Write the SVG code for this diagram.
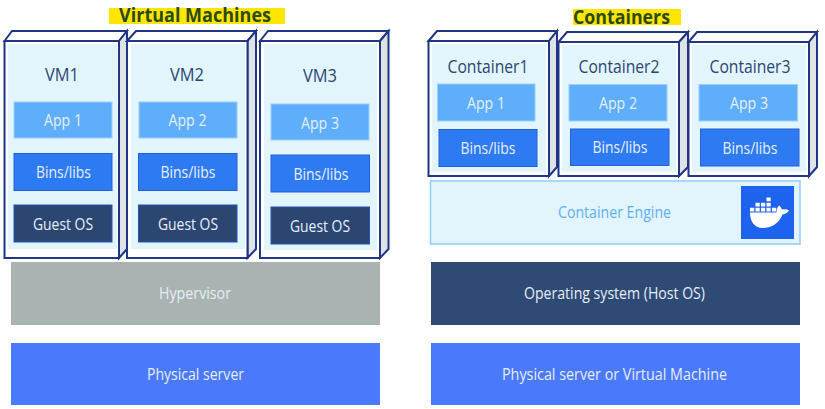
<svg xmlns="http://www.w3.org/2000/svg" width="825" height="409" viewBox="0 0 825 409">
<style>
text{font-family:"Open Sans","Noto Sans","Liberation Sans",sans-serif;text-anchor:middle}
.front{fill:#fff;stroke:#1f3585;stroke-width:2}
.top{fill:#fff;stroke:#1f3585;stroke-width:2;stroke-linejoin:miter}
.side{fill:#dfe3e3;stroke:#1f3585;stroke-width:2}
.inner{fill:#e2f5fd}
.app{fill:#5eaefc;stroke:#9cd0fb;stroke-width:1}
.bins{fill:#2e7af2;stroke:#2460d8;stroke-width:1}
.guest{fill:#2c4672;stroke:#2452b8;stroke-width:1}
.t{font-size:16.500px;fill:#e6f0fb}
.name{font-size:18px;fill:#2c4672}
.bar{font-size:16px;fill:#e6eef8}
.head{font-size:20px;font-weight:700;fill:#2a4a12}
.hl{fill:#ffe600}
.cube{fill:#fff}
</style>
<rect width="825" height="409" fill="#fff"/>

<g id="title-vm"><rect class="hl" x="109" y="8" width="176" height="16"/><text class="head" x="195" y="22" textLength="152" lengthAdjust="spacingAndGlyphs">Virtual Machines</text></g>
<g id="title-containers"><rect class="hl" x="573" y="9" width="108" height="16"/><text class="head" x="621.500" y="23.500" textLength="97" lengthAdjust="spacingAndGlyphs">Containers</text></g>

<g id="vm1">
<path class="top" d="M4.500 41L12 31H127L119 41Z"/><path class="side" d="M119 41L127 31V249L119 258Z"/>
<rect class="front" x="4.500" y="41" width="114.500" height="217"/><rect class="inner" x="8" y="44" width="109" height="205"/>
<text class="name" x="62" y="80.500" textLength="34" lengthAdjust="spacingAndGlyphs">VM1</text>
<rect class="app" x="14" y="102" width="98" height="36"/><text class="t" x="63" y="126" textLength="38" lengthAdjust="spacingAndGlyphs">App 1</text>
<rect class="bins" x="14" y="153.500" width="98" height="37"/><text class="t" x="63.500" y="178" textLength="55" lengthAdjust="spacingAndGlyphs">Bins/libs</text>
<rect class="guest" x="14" y="205" width="98" height="37"/><text class="t" x="63" y="230" textLength="60" lengthAdjust="spacingAndGlyphs">Guest OS</text>
</g>
<g id="vm2">
<path class="top" d="M127 41L136 31H256L247.500 41Z"/><path class="side" d="M247.500 41L256 31V249L247.500 258Z"/>
<rect class="front" x="127" y="41" width="120.500" height="217"/><rect class="inner" x="131" y="44" width="114" height="205"/>
<text class="name" x="187" y="80.500" textLength="34" lengthAdjust="spacingAndGlyphs">VM2</text>
<rect class="app" x="139" y="102" width="98" height="36"/><text class="t" x="187.500" y="126" textLength="38" lengthAdjust="spacingAndGlyphs">App 2</text>
<rect class="bins" x="138.500" y="153.500" width="98.500" height="37"/><text class="t" x="188" y="178" textLength="55" lengthAdjust="spacingAndGlyphs">Bins/libs</text>
<rect class="guest" x="138.500" y="205" width="98.500" height="37"/><text class="t" x="188" y="230" textLength="60" lengthAdjust="spacingAndGlyphs">Guest OS</text>
</g>
<g id="vm3">
<path class="top" d="M260 41L268 31H388.500L380 41Z"/><path class="side" d="M380 41L388.500 31V249L380 258Z"/>
<rect class="front" x="260" y="41" width="120" height="217"/><rect class="inner" x="264" y="44" width="113" height="206"/>
<text class="name" x="320" y="81.500" textLength="34" lengthAdjust="spacingAndGlyphs">VM3</text>
<rect class="app" x="271" y="104" width="98" height="36"/><text class="t" x="320" y="129" textLength="38" lengthAdjust="spacingAndGlyphs">App 3</text>
<rect class="bins" x="271" y="155" width="98.500" height="37"/><text class="t" x="321" y="180" textLength="55" lengthAdjust="spacingAndGlyphs">Bins/libs</text>
<rect class="guest" x="271" y="207" width="98.500" height="37"/><text class="t" x="320" y="232" textLength="60" lengthAdjust="spacingAndGlyphs">Guest OS</text>
</g>

<g id="hypervisor"><rect x="11" y="262" width="369" height="63" fill="#a9b3b1"/><text class="bar" x="195" y="299" textLength="72" lengthAdjust="spacingAndGlyphs">Hypervisor</text></g>
<g id="physical1"><rect x="11" y="343" width="369" height="62" fill="#4a79fb"/><text class="bar" x="195.500" y="380" textLength="97" lengthAdjust="spacingAndGlyphs">Physical server</text></g>

<g id="container1">
<path class="top" d="M428.500 41L437 31H557L549 41Z"/><path class="side" d="M549 41L557 31V167L549 176Z"/>
<rect class="front" x="428.500" y="41" width="120.500" height="135"/><rect class="inner" x="432" y="44" width="114" height="128"/>
<text class="name" x="488" y="73" textLength="81" lengthAdjust="spacingAndGlyphs">Container1</text>
<rect class="app" x="437.500" y="84" width="97.500" height="37"/><text class="t" x="486" y="109" textLength="38" lengthAdjust="spacingAndGlyphs">App 1</text>
<rect class="bins" x="439" y="129.500" width="98" height="37"/><text class="t" x="488" y="154" textLength="55" lengthAdjust="spacingAndGlyphs">Bins/libs</text>
</g>
<g id="container2">
<path class="top" d="M558.500 42L567 32H688L679 42Z"/><path class="side" d="M679 42L688 32V167L679 176Z"/>
<rect class="front" x="558.500" y="42" width="120.500" height="134"/><rect class="inner" x="562" y="45" width="114" height="127"/>
<text class="name" x="619" y="73" textLength="81" lengthAdjust="spacingAndGlyphs">Container2</text>
<rect class="app" x="569" y="84.500" width="98" height="36.500"/><text class="t" x="618" y="109" textLength="38" lengthAdjust="spacingAndGlyphs">App 2</text>
<rect class="bins" x="570.500" y="129" width="98.500" height="36.500"/><text class="t" x="620" y="153" textLength="55" lengthAdjust="spacingAndGlyphs">Bins/libs</text>
</g>
<g id="container3">
<path class="top" d="M688.500 42L697 32H817L809 42Z"/><path class="side" d="M809 42L817 32V167L809 176Z"/>
<rect class="front" x="688.500" y="42" width="120.500" height="134"/><rect class="inner" x="692" y="45" width="114" height="127"/>
<text class="name" x="750" y="73" textLength="81" lengthAdjust="spacingAndGlyphs">Container3</text>
<rect class="app" x="699" y="84.500" width="98.500" height="36.500"/><text class="t" x="749" y="109" textLength="38" lengthAdjust="spacingAndGlyphs">App 3</text>
<rect class="bins" x="700.500" y="129" width="98.500" height="37"/><text class="t" x="750" y="154" textLength="55" lengthAdjust="spacingAndGlyphs">Bins/libs</text>
</g>

<g id="engine">
<rect x="430.500" y="181" width="369.500" height="63" fill="#e2f5fd" stroke="#8fcdfb" stroke-width="1.500"/>
<text x="614.500" y="218" font-size="16.500" fill="#60aff8" textLength="113" lengthAdjust="spacingAndGlyphs">Container Engine</text>
<rect x="741" y="186" width="53" height="53" fill="#1d63ed"/>
<path class="cube" d="M750 212.500H776.500C776.500 209 777 207.500 779 205.500C781 207 781.500 208.500 782 209.500C785 209 787.500 209.500 789 210.500C787 213.500 784.500 214 782.500 214.500C779 223 772 228 763 228C754 228 750 221 750 212.500Z"/>
<path class="cube" d="M750 207.700h4.200v3.800h-4.200zM755.500 207.700h4.200v3.800h-4.200zM761 207.700h4.200v3.800h-4.200zM766.500 207.700h4.200v3.800h-4.200zM772 207.700h4.200v3.800h-4.200zM755.500 202.700h4.200v3.800h-4.200zM761 202.700h4.200v3.800h-4.200zM766.500 202.700h4.200v3.800h-4.200zM766.500 197.400h4.200v3.800h-4.200z"/>
</g>
<g id="hostos"><rect x="431" y="262" width="369" height="63" fill="#2f4a75"/><text class="bar" x="614.500" y="299" textLength="181" lengthAdjust="spacingAndGlyphs">Operating system (Host OS)</text></g>
<g id="physical2"><rect x="431" y="343" width="369" height="62" fill="#4a79fb"/><text class="bar" x="614.500" y="380" textLength="225" lengthAdjust="spacingAndGlyphs">Physical server or Virtual Machine</text></g>
</svg>
